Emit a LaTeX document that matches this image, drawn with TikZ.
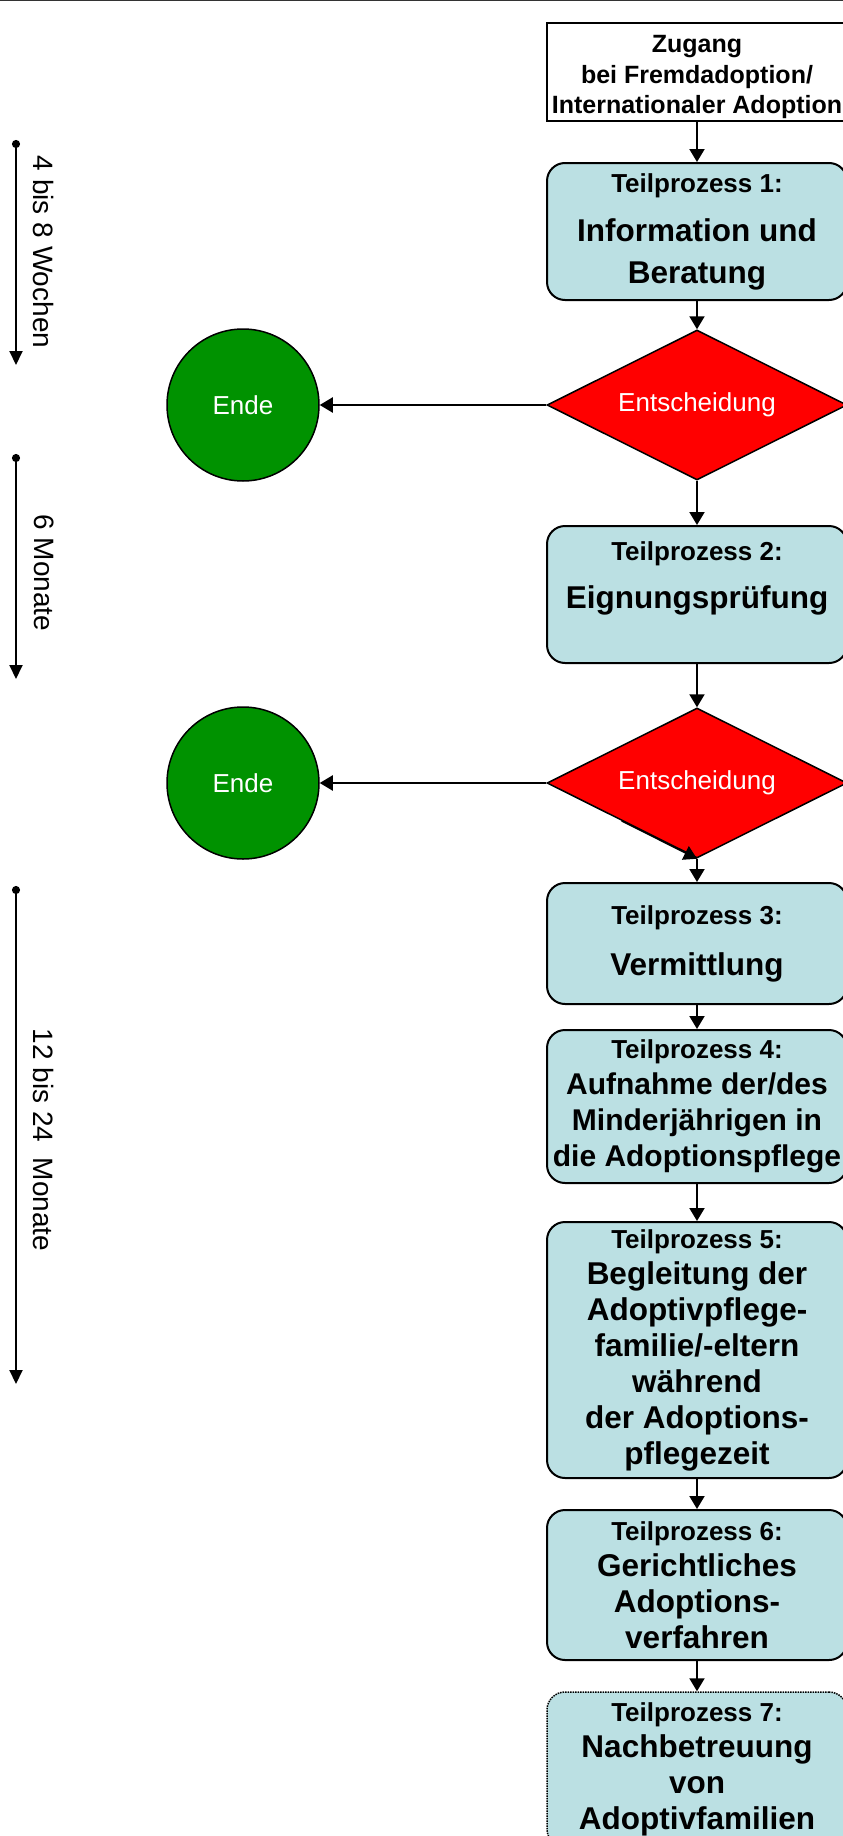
\documentclass[tikz,border=0pt]{standalone}
\usepackage{fontspec}
\setmainfont{Liberation Sans}
\usetikzlibrary{shapes.geometric, arrows.meta}
\definecolor{tpblue}{RGB}{187,224,227}
\definecolor{endgreen}{RGB}{0,146,0}
\tikzstyle{arrow} = [line width=2pt,-{Triangle[width=15pt,length=13pt]}]
\tikzstyle{timeline} = [line width=2pt,{Circle[width=8pt,length=8pt]}-{Triangle[width=13pt,length=14pt]}]
\tikzstyle{process} = [draw, line width=2pt, rounded corners=18pt, fill=tpblue, minimum width=300pt, inner sep=0pt, align=center, font=\bfseries\fontsize{31.5}{36}\selectfont]
\tikzstyle{startbox} = [draw, line width=2pt, fill=white, minimum width=300pt, inner sep=0pt, align=center, font=\bfseries\fontsize{25}{30.5}\selectfont]
\tikzstyle{decision} = [diamond, aspect=2, draw, line width=1.5pt, fill=red, minimum width=300pt, minimum height=150pt, inner sep=0pt, text=white, font=\fontsize{26}{31}\selectfont]
\tikzstyle{endcircle} = [circle, draw, line width=1.5pt, fill=endgreen, minimum size=152pt, inner sep=0pt, text=white, font=\fontsize{26}{31}\selectfont]
\tikzstyle{duration} = [rotate=-90, font=\fontsize{28}{34}\selectfont]
\newcommand{\tpnum}[1]{{\fontsize{26}{31}\selectfont Teilprozess #1:}}

\begin{document}
\begin{tikzpicture}[x=1pt,y=-1pt]
  \useasboundingbox (0,0) rectangle (843,1836);
  \clip (0,0) rectangle (843,1836);
  \draw[line width=2pt, black!80] (0,0) -- (843,0);

  % Time spans on the left
  \coordinate (w1a) at (16,140);
  \coordinate (w1b) at (16,365);
  \draw[timeline] (w1a) -- (w1b);
  \node[duration] (w1) at (44,252) {4 bis 8 Wochen};

  \coordinate (w2a) at (16,454);
  \coordinate (w2b) at (16,679);
  \draw[timeline] (w2a) -- (w2b);
  \node[duration] (w2) at (44,573) {6 Monate};

  \coordinate (w3a) at (16,886);
  \coordinate (w3b) at (16,1384);
  \draw[timeline] (w3a) -- (w3b);
  \node[duration] (w3) at (44,1140) {12 bis 24\ \ Monate};

  % Process chain
  \node[startbox, minimum height=98pt] (zugang) at (697,72) {\rule{0pt}{28pt}Zugang\\bei Fremdadoption/\\Internationaler Adoption};
  \node[process, minimum height=137pt] (tp1) at (697,231.5) {\tpnum{1}\\[13pt]Information und\\[6pt]Beratung};
  \node[decision] (dec1) at (697,405) {Entscheidung};
  \node[endcircle] (ende1) at (243,405) {Ende};
  \node[process, minimum height=137pt] (tp2) at (697,594.5) {\tpnum{2}\\[12pt]Eignungsprüfung\\[-8pt]\strut};
  \node[decision] (dec2) at (697,783) {Entscheidung};
  \node[endcircle] (ende2) at (243,783) {Ende};
  \node[process, minimum height=121pt] (tp3) at (697,943.5) {\tpnum{3}\\[15pt]Vermittlung};
  \node[process, minimum height=153pt, font=\bfseries\fontsize{30}{36}\selectfont] (tp4) at (697,1106.5) {\tpnum{4}\\Aufnahme der/des\\Minderjährigen in\\die Adoptionspflege};
  \node[process, minimum height=256pt] (tp5) at (697,1350) {\tpnum{5}\\Begleitung der\\Adoptivpflege-\\familie/-eltern\\während\\der Adoptions-\\pflegezeit};
  \node[process, minimum height=150pt] (tp6) at (697,1585) {\tpnum{6}\\Gerichtliches\\Adoptions-\\verfahren};
  \node[process, minimum height=155pt, dash pattern=on 1.5pt off 1pt, line width=1.5pt] (tp7) at (697,1769.5) {\tpnum{7}\\Nachbetreuung\\von\\Adoptivfamilien};

  % Connections
  \draw[arrow] (zugang) -- (tp1);
  \draw[arrow] (tp1) -- (dec1);
  \draw[arrow] (dec1) -- (ende1);
  \draw[arrow] (dec1) -- (tp2);
  \draw[arrow] (tp2) -- (dec2);
  \draw[arrow] (dec2) -- (ende2);
  \draw[arrow, line width=1.5pt] (dec2.south west) -- (dec2.south);
  \draw[arrow] (dec2) -- (tp3);
  \draw[arrow] (tp3) -- (tp4);
  \draw[arrow] (tp4) -- (tp5);
  \draw[arrow] (tp5) -- (tp6);
  \draw[arrow] (tp6) -- (tp7);
\end{tikzpicture}
\end{document}
